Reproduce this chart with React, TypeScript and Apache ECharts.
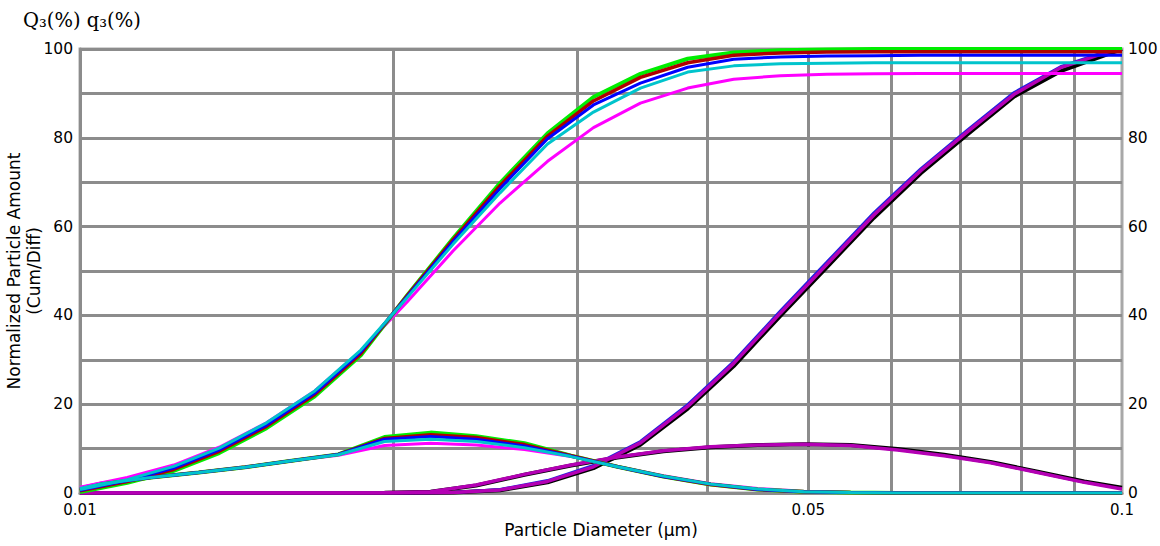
import React, { useEffect, useRef } from "react";
import * as echarts from "echarts";

// Particle diameters (µm): bin edges for cumulative curves, bin midpoints for differential curves
const edgeD = [0.0100, 0.0111, 0.0123, 0.0136, 0.0151, 0.0168, 0.0186, 0.0206, 0.0228, 0.0253, 0.0281, 0.0311, 0.0345, 0.0383, 0.0424, 0.0470, 0.0521, 0.0578, 0.0641, 0.0711, 0.0788, 0.0873, 0.0968, 0.1000];
const midD = [0.0100, 0.0105, 0.0117, 0.0130, 0.0144, 0.0159, 0.0177, 0.0196, 0.0217, 0.0240, 0.0267, 0.0296, 0.0328, 0.0363, 0.0403, 0.0447, 0.0495, 0.0549, 0.0609, 0.0675, 0.0748, 0.0830, 0.0920, 0.1000];

// Small-particle samples: cumulative Q3 (%)
const cumGreen = [0.2, 2.3, 5.0, 9.0, 14.6, 21.8, 31.0, 44.5, 57.3, 69.8, 81.0, 89.2, 94.4, 97.8, 99.2, 99.7, 99.9, 100, 100, 100, 100, 100, 100, 100];
const cumRed = [0.5, 2.6, 5.3, 9.4, 15.0, 22.2, 31.4, 44.4, 57.0, 69.2, 80.4, 88.3, 93.6, 96.9, 98.6, 99.1, 99.3, 99.4, 99.4, 99.4, 99.4, 99.4, 99.4, 99.4];
const cumBlue = [0.6, 2.8, 5.6, 9.7, 15.3, 22.5, 31.8, 44.2, 56.6, 68.6, 79.8, 87.4, 92.3, 95.9, 97.7, 98.2, 98.4, 98.5, 98.6, 98.6, 98.6, 98.6, 98.6, 98.6];
const cumCyan = [0.8, 3.0, 6.0, 10.1, 15.8, 23.0, 32.2, 44.0, 56.0, 67.6, 78.6, 85.8, 91.2, 94.8, 96.2, 96.7, 96.8, 96.9, 96.9, 96.9, 96.9, 96.9, 96.9, 96.9];
const cumMagenta = [1.3, 3.5, 6.3, 10.3, 15.8, 23.0, 32.0, 43.0, 54.5, 65.3, 74.7, 82.3, 87.8, 91.2, 93.2, 94.0, 94.3, 94.4, 94.5, 94.5, 94.5, 94.5, 94.5, 94.5];

// Small-particle samples: differential q3 (%)
const difGreen = [0.5, 2.0, 3.5, 4.6, 5.8, 7.2, 8.7, 12.6, 13.6, 12.8, 11.2, 8.4, 5.9, 3.7, 1.9, 0.8, 0.3, 0.1, 0, 0, 0, 0, 0, 0];
const difRed = [0.8, 2.0, 3.5, 4.6, 5.8, 7.2, 8.7, 12.3, 13.1, 12.5, 10.9, 8.4, 5.9, 3.7, 1.9, 0.8, 0.3, 0.1, 0, 0, 0, 0, 0, 0];
const difBlue = [0.9, 2.0, 3.5, 4.6, 5.8, 7.2, 8.7, 12.1, 12.7, 12.1, 10.6, 8.3, 5.9, 3.7, 2.0, 0.8, 0.3, 0.1, 0, 0, 0, 0, 0, 0];
const difCyan = [1.0, 2.1, 3.5, 4.6, 5.8, 7.2, 8.6, 11.6, 12.1, 11.6, 10.2, 8.2, 5.9, 3.8, 2.0, 0.9, 0.3, 0.1, 0, 0, 0, 0, 0, 0];
const difMagenta = [1.2, 2.3, 3.6, 4.7, 5.9, 7.2, 8.5, 10.7, 11.2, 10.8, 9.8, 8.2, 6.0, 3.9, 2.1, 1.0, 0.4, 0.1, 0, 0, 0, 0, 0, 0];

// Large-particle samples
const cumBlack = [0, 0, 0, 0, 0, 0, 0, 0, 0.1, 0.6, 2.4, 5.6, 10.9, 19.0, 28.6, 39.9, 50.9, 62.0, 72.0, 80.8, 89.3, 95.0, 98.8, 100];
const cumBlue2 = [0, 0, 0, 0, 0, 0, 0, 0, 0.1, 0.8, 2.8, 6.2, 11.6, 19.9, 29.6, 41.0, 52.0, 63.1, 73.0, 81.8, 90.2, 96.0, 99.5, 100];
const cumPurple = [0, 0, 0, 0, 0, 0, 0, 0, 0.1, 0.7, 2.6, 5.9, 11.3, 19.5, 29.2, 40.5, 51.5, 62.6, 72.6, 81.4, 89.8, 95.8, 99.3, 100];
const difBlack = [0, 0, 0, 0, 0, 0, 0, 0.05, 0.3, 1.7, 4.1, 6.2, 8.0, 9.4, 10.3, 10.8, 11.0, 10.8, 9.9, 8.6, 7.0, 4.8, 2.6, 1.2];
const difPurple = [0, 0, 0, 0, 0, 0, 0, 0.05, 0.3, 1.8, 4.2, 6.3, 8.1, 9.5, 10.4, 10.8, 11.0, 10.7, 9.7, 8.4, 6.8, 4.6, 2.4, 0.9];

const vGrid = [0.02, 0.03, 0.04, 0.05, 0.06, 0.07, 0.08, 0.09];
const xLabels = [0.01, 0.05, 0.1];
const yTicks = [0, 20, 40, 60, 80, 100];

const FONT = "DejaVu Sans, Verdana, sans-serif";
const GRIDC = "#8c8c8c";

function line(name: string, xs: number[], ys: number[], color: string, width: number) {
  return {
    name,
    type: "line",
    data: xs.map((x, i) => [x, ys[i]]),
    showSymbol: false,
    symbol: "none",
    smooth: false,
    lineStyle: { color, width },
    itemStyle: { color },
    emphasis: { disabled: true },
    silent: true,
  };
}

export default function App() {
  const ref = useRef<HTMLDivElement>(null);
  useEffect(() => {
    if (!ref.current) return;
    const chart = echarts.init(ref.current, null, { renderer: "svg" });
    chart.setOption({
      animation: false,
      backgroundColor: "#ffffff",
      title: {
        text: "Q\u2083(%) q\u2083(%)",
        left: 18,
        top: 5,
        textStyle: { fontFamily: "DejaVu Serif, Liberation Serif, serif", fontSize: 19.5, fontWeight: "normal", color: "#000" },
      },
      grid: {
        left: 80, right: 38, top: 49, bottom: 53,
        containLabel: false,
        outerBoundsMode: "none",
        show: true, borderColor: "#a8a8a8", borderWidth: 3, backgroundColor: "#fff",
      },
      xAxis: {
        type: "log",
        logBase: 10,
        min: 0.01,
        max: 0.1,
        name: "Particle Diameter (\u00b5m)",
        nameLocation: "middle",
        nameGap: 28,
        nameMoveOverlap: false,
        nameTextStyle: { fontFamily: FONT, fontSize: 17, color: "#000" },
        axisLine: { show: true, lineStyle: { color: GRIDC, width: 3 } },
        axisTick: { show: false, customValues: vGrid },
        splitLine: { show: true, lineStyle: { color: GRIDC, width: 3 } },
        axisLabel: {
          customValues: xLabels,
          fontFamily: FONT, fontSize: 15, color: "#000", margin: 10, lineHeight: 13,
          formatter: (v: number) => String(+v.toFixed(3)),
        },
      },
      yAxis: [
        {
          type: "value", min: 0, max: 100, interval: 10, position: "left",
          name: "Normalized Particle Amount\n(Cum/Diff)",
          nameLocation: "middle", nameRotate: 90, nameGap: 36,
          nameMoveOverlap: false,
          nameTextStyle: { fontFamily: FONT, fontSize: 17, color: "#000", lineHeight: 20 },
          axisLine: { show: true, lineStyle: { color: GRIDC, width: 3 } },
          axisTick: { show: false },
          splitLine: { show: true, lineStyle: { color: GRIDC, width: 3 } },
          axisLabel: {
            fontFamily: FONT, fontSize: 15.5, color: "#000", margin: 7, lineHeight: 13,
            formatter: (v: number) => (yTicks.indexOf(v) >= 0 ? String(v) : ""),
          },
        },
        {
          type: "value", min: 0, max: 100, interval: 10, position: "right",
          axisLine: { show: false },
          axisTick: { show: false },
          splitLine: { show: false },
          axisLabel: {
            fontFamily: FONT, fontSize: 15.5, color: "#000", margin: 6, lineHeight: 13,
            formatter: (v: number) => (yTicks.indexOf(v) >= 0 ? String(v) : ""),
          },
        },
      ],
      series: [
        line("Q3 large black", edgeD, cumBlack, "#000000", 4),
        line("q3 large black", midD, difBlack, "#000000", 4),
        line("Q3 large blue", edgeD, cumBlue2, "#2020e0", 3),
        line("Q3 large purple", edgeD, cumPurple, "#b400b4", 3.5),
        line("q3 large purple", midD, difPurple, "#b400b4", 3.5),
        line("Q3 magenta", edgeD, cumMagenta, "#ff00ff", 3),
        line("q3 magenta", midD, difMagenta, "#ff00ff", 3),
        line("Q3 green", edgeD, cumGreen, "#00ee00", 4),
        line("q3 green", midD, difGreen, "#00ee00", 4),
        line("Q3 red", edgeD, cumRed, "#b00000", 3.5),
        line("q3 red", midD, difRed, "#b00000", 3.5),
        line("Q3 blue", edgeD, cumBlue, "#0000ff", 3),
        line("q3 blue", midD, difBlue, "#0000ff", 3),
        line("Q3 cyan", edgeD, cumCyan, "#00c4cc", 3),
        line("q3 cyan", midD, difCyan, "#00c4cc", 3),
      ],
    });
    return () => chart.dispose();
  }, []);
  return <div ref={ref} style={{ position: "fixed", left: 0, top: 0, width: 1160, height: 546 }} />;
}
